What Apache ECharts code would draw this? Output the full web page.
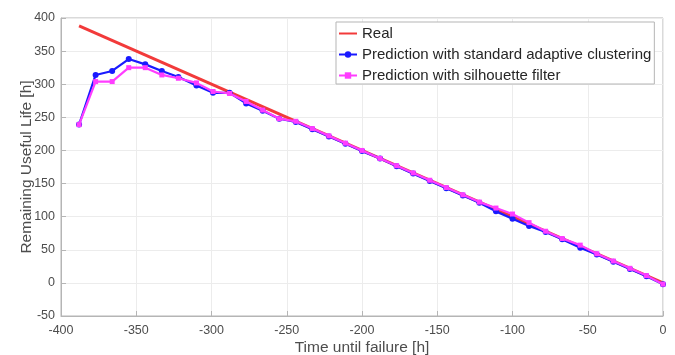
<!DOCTYPE html>
<html>
<head>
<meta charset="utf-8">
<script src="https://cdn.jsdelivr.net/npm/echarts@6/dist/echarts.min.js"></script>
<style>
  html, body { margin: 0; padding: 0; background: #fff; }
  #chart { width: 675px; height: 355px; }
</style>
</head>
<body>
<div id="chart"></div>
<script>
const timeH = [-388, -377, -366, -355, -344, -333, -322, -310, -299, -288, -277, -266,
  -255, -244, -233, -222, -211, -200, -188, -177, -166, -155, -144, -133,
  -122, -111, -100, -89, -78, -67, -55, -44, -33, -22, -11, 0];

const realX = [-388, 0];
const realY = [388, 0];

const standardRul = [239, 314, 320, 338, 330, 320, 311, 298, 287, 287, 271, 260,
  248, 243, 232, 221, 210, 199, 188, 176, 165, 154, 143, 132,
  121, 108, 97, 86, 77, 66, 53, 43, 32, 21, 10, -2];

const silhouetteRul = [239, 304, 304, 325, 325, 314, 309, 302, 289, 286, 274, 261,
  248, 244, 233, 222, 211, 200, 188, 177, 166, 155, 144, 133,
  122, 113, 104, 91, 78, 67, 57, 44, 33, 22, 11, -2];

const seriesNames = [
  "Real",
  "Prediction with standard adaptive clustering",
  "Prediction with silhouette filter",
];

const pair = (xs, ys) => xs.map((x, i) => [x, ys[i]]);

const chart = echarts.init(document.getElementById("chart"));
const font = "Liberation Sans, Arial, sans-serif";
const textColor = "#4d4d4d";

chart.setOption({
  animation: false,
  textStyle: { fontFamily: font },
  grid: {
    left: 61, right: 12, top: 18, bottom: 39,
    outerBoundsMode: "none",
    containLabel: false,
    show: true, borderColor: "#b5b5b5", borderWidth: 1,
  },
  legend: {
    orient: "vertical",
    left: 336, top: 22,
    padding: [4, 3, 1, 2],
    itemGap: 6,
    itemWidth: 18, itemHeight: 8,
    backgroundColor: "#fff",
    borderColor: "#b5b5b5", borderWidth: 1,
    textStyle: { fontSize: 15, color: "#262626", fontFamily: font },
    data: [
      { name: seriesNames[0], itemStyle: { opacity: 0 } },
      seriesNames[1],
      seriesNames[2],
    ],
  },
  xAxis: {
    type: "value",
    min: -400, max: 0, interval: 50,
    name: "Time until failure [h]",
    nameLocation: "middle",
    nameGap: 24,
    nameMoveOverlap: false,
    nameTextStyle: { fontSize: 15.5, color: textColor },
    axisLine: { onZero: false, lineStyle: { color: "#b5b5b5" } },
    axisTick: { inside: true, length: 5, lineStyle: { color: "#b5b5b5" } },
    axisLabel: { fontSize: 12.5, color: textColor, margin: 8 },
    splitLine: { lineStyle: { color: "#ececec" } },
  },
  yAxis: {
    type: "value",
    min: -50, max: 400, interval: 50,
    name: "Remaining Useful Life [h]",
    nameLocation: "middle",
    nameGap: 26,
    nameMoveOverlap: false,
    nameTextStyle: { fontSize: 15.5, color: textColor },
    axisLine: { onZero: false, lineStyle: { color: "#b5b5b5" } },
    axisTick: { inside: true, length: 5, lineStyle: { color: "#b5b5b5" } },
    axisLabel: { fontSize: 12.5, color: textColor, margin: 6 },
    splitLine: { lineStyle: { color: "#ececec" } },
  },
  series: [
    {
      name: seriesNames[0],
      type: "line",
      data: pair(realX, realY),
      showSymbol: false,
      symbol: "none",
      color: "#f23a3a",
      lineStyle: { width: 3, color: "#f23a3a" },
      z: 2,
    },
    {
      name: seriesNames[1],
      type: "line",
      data: pair(timeH, standardRul),
      symbol: "circle",
      symbolSize: 6,
      color: "#1a1aff",
      lineStyle: { width: 2.2, color: "#1a1aff" },
      z: 3,
    },
    {
      name: seriesNames[2],
      type: "line",
      data: pair(timeH, silhouetteRul),
      symbol: "rect",
      symbolSize: 5,
      color: "#ff3dff",
      lineStyle: { width: 2.2, color: "#ff3dff" },
      z: 4,
    },
  ],
});
</script>
</body>
</html>
